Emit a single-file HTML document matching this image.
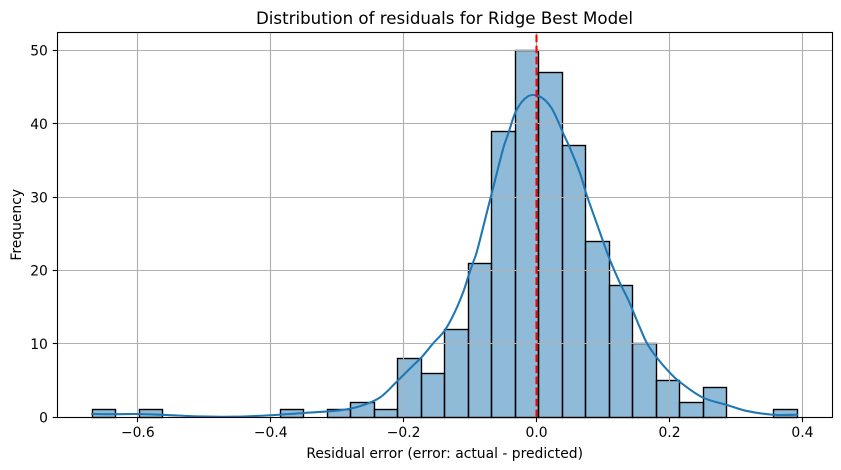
<!DOCTYPE html>
<html>
<head>
<meta charset="utf-8">
<title>Distribution of residuals for Ridge Best Model</title>
<style>
html,body{margin:0;padding:0;background:#fff;width:841px;height:470px;overflow:hidden}
svg{display:block}
text{font-family:"DejaVu Sans","Liberation Sans",sans-serif;fill:#000}
</style>
</head>
<body>
<svg id="chart" width="841" height="470" viewBox="0 0 841 470" xmlns="http://www.w3.org/2000/svg"></svg>
<script>
const binStart = -0.6685;
const binWidth = 0.03536;
const binCounts = [1,0,1,0,0,0,0,0,1,0,1,2,1,8,6,12,21,39,50,47,37,24,18,10,5,2,4,0,0,1];
const kdeX = [-0.669,-0.633,-0.598,-0.559,-0.506,-0.454,-0.401,-0.348,-0.296,-0.266,-0.2356,-0.2105,-0.1855,-0.1729,-0.1554,-0.1378,-0.1228,-0.1103,-0.1028,-0.0952,-0.0892,-0.0731,-0.0626,-0.0501,-0.0426,-0.0325,-0.0224,-0.0125,-0.005,0.0026,0.0126,0.0227,0.0327,0.0402,0.0503,0.0653,0.0754,0.0879,0.1004,0.1104,0.1255,0.138,0.1556,0.1661,0.1812,0.1992,0.2158,0.25,0.286,0.317,0.356,0.392];
const kdeY = [0.45,0.42,0.45,0.32,0.12,0.08,0.28,0.6,0.95,1.5,2.7,4.85,7.1,8.2,10.1,11.9,14.4,17.1,19.2,21.2,22.8,28.55,32.3,36.7,38.7,41.45,43.0,43.8,43.95,43.85,43.26,42.15,40.3,38.7,36.7,33.3,30.3,27.1,23.9,21.45,18.3,16.0,12.2,10.1,8.1,6.2,4.8,2.7,1.7,0.85,0.35,0.35];
const xTicks = [-0.6,-0.4,-0.2,0,0.2,0.4];
const xTickLabels = ["\u22120.6","\u22120.4","\u22120.2","0.0","0.2","0.4"];
const yTicks = [0,10,20,30,40,50];
const yTickLabels = ["0","10","20","30","40","50"];
const referenceValue = 0;

const svg = document.getElementById('chart');
const plot = {left:57.6,right:832.6,top:32.3,bottom:417.3};
const xDomain = [-0.7207,0.4454];
const yDomain = [0,52.5];
function xScale(v){return plot.left+(v-xDomain[0])/(xDomain[1]-xDomain[0])*(plot.right-plot.left);}
function yScale(v){return plot.bottom-(v-yDomain[0])/(yDomain[1]-yDomain[0])*(plot.bottom-plot.top);}
function snap(v){return Math.floor(v)+0.5;}
function mk(tag,attrs){
  const el=document.createElementNS('http://www.w3.org/2000/svg',tag);
  for(const k in attrs){el.setAttribute(k,attrs[k]);}
  svg.appendChild(el);
  return el;
}
function txt(str,attrs){
  const el=mk('text',attrs);
  el.textContent=str;
  return el;
}

binCounts.forEach(function(c,i){
  if(c<=0){return;}
  const x0=snap(xScale(binStart+i*binWidth));
  const x1=snap(xScale(binStart+(i+1)*binWidth));
  const y=snap(yScale(c));
  const el=mk('rect',{x:x0,y:y,width:x1-x0,height:snap(yScale(0))-y,fill:'#1f77b4','fill-opacity':0.5,stroke:'#000','stroke-width':1.39});
  
  
});

xTicks.forEach(function(t,i){
  const x=snap(xScale(t));
  const el=mk('line',{x1:x,x2:x,y1:plot.top,y2:plot.bottom,stroke:'#b0b0b0','stroke-width':1.11});
  
  
});
yTicks.forEach(function(t,i){
  const y=snap(yScale(t));
  const el=mk('line',{x1:plot.left,x2:plot.right,y1:y,y2:y,stroke:'#b0b0b0','stroke-width':1.11});
  
  
});

function kdePath(){
  const p=kdeX.map(function(v,i){return [xScale(v),yScale(kdeY[i])];});
  let d='M'+p[0][0]+' '+p[0][1];
  for(let i=0;i<p.length-1;i++){
    const a=p[Math.max(i-1,0)],b=p[i],c=p[i+1],e=p[Math.min(i+2,p.length-1)];
    d+=' C'+(b[0]+(c[0]-a[0])/6)+' '+(b[1]+(c[1]-a[1])/6)+' '+(c[0]-(e[0]-b[0])/6)+' '+(c[1]-(e[1]-b[1])/6)+' '+c[0]+' '+c[1];
  }
  return d;
}
const kde=mk('path',{d:kdePath(),fill:'none',stroke:'#1f77b4','stroke-width':2.08,'stroke-linecap':'round','stroke-linejoin':'round'});



const refX=snap(xScale(referenceValue));
const refLine=mk('line',{x1:refX,x2:refX,y1:plot.bottom,y2:plot.top,stroke:'#ff0000','stroke-width':2.08,'stroke-dasharray':'7.7 3.33'});



const frameLeft=snap(plot.left),frameRight=snap(plot.right),frameTop=snap(plot.top),frameBottom=snap(plot.bottom);
const frame=mk('rect',{x:frameLeft,y:frameTop,width:frameRight-frameLeft,height:frameBottom-frameTop,fill:'none',stroke:'#000','stroke-width':1.11});



xTicks.forEach(function(t,i){
  const x=snap(xScale(t));
  const tick=mk('line',{x1:x,x2:x,y1:plot.bottom,y2:plot.bottom+4.86,stroke:'#000','stroke-width':1.11});
  
  
  const lab=txt(xTickLabels[i],{x:xScale(t),y:437,'text-anchor':'middle','font-size':'13.89px'});
  
  
});
yTicks.forEach(function(t,i){
  const y=snap(yScale(t));
  const tick=mk('line',{x1:plot.left-4.86,x2:plot.left,y1:y,y2:y,stroke:'#000','stroke-width':1.11});
  
  
  const lab=txt(yTickLabels[i],{x:plot.left-9.7,y:yScale(t)+5.1,'text-anchor':'end','font-size':'13.89px'});
  
  
});

const title=txt('Distribution of residuals for Ridge Best Model',{x:(plot.left+plot.right)/2-0.6,y:24,'text-anchor':'middle','font-size':'16.67px'});


const xTitle=txt('Residual error (error: actual - predicted)',{x:(plot.left+plot.right)/2-0.4,y:458,'text-anchor':'middle','font-size':'13.89px'});


const yMid=(plot.top+plot.bottom)/2;
const yTitle=txt('Frequency',{x:21,y:yMid,'text-anchor':'middle','font-size':'13.89px',transform:'rotate(-90 21 '+yMid+')'});


</script>
</body>
</html>
